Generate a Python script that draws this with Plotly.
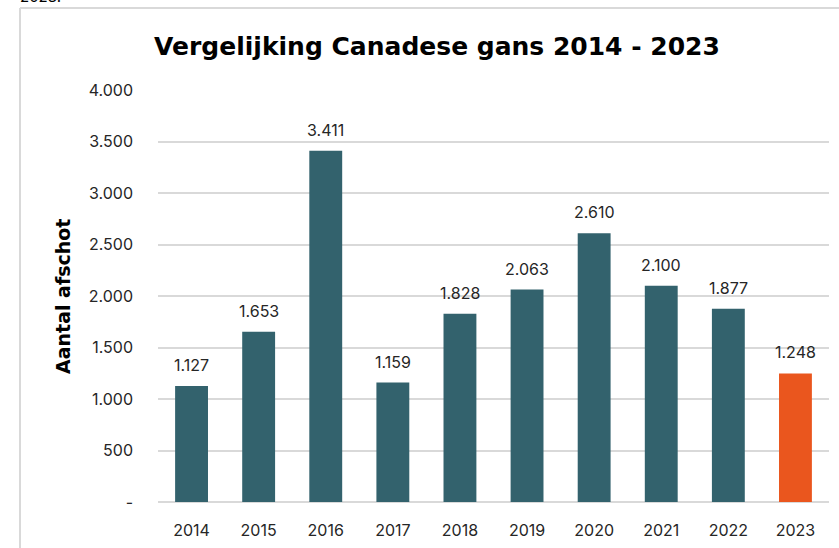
import plotly.graph_objects as go

years = ["2014", "2015", "2016", "2017", "2018", "2019", "2020", "2021", "2022", "2023"]
values = [1127, 1653, 3411, 1159, 1828, 2063, 2610, 2100, 1877, 1248]
tick_vals = [0, 500, 1000, 1500, 2000, 2500, 3000, 3500, 4000]
tick_text = ["-", "500", "1.000", "1.500", "2.000", "2.500", "3.000", "3.500", "4.000"]

teal = "#33626D"
orange = "#EA561E"
colors = [teal] * 9 + [orange]
labels = [f"{v:,}".replace(",", ".") for v in values]

W, H = 839, 548
L, R, T, B = 158, 10, 90, 46
pw, ph = W - L - R, H - T - B

def px(x):
    return (x - L) / pw

def py(y):
    return (H - B - y) / ph

font = "Inter"
bold = "DejaVu Sans"

fig = go.Figure(go.Bar(
    x=years, y=values, marker_color=colors, marker_line_width=0,
    width=0.49, hoverinfo="x+y",
))

ann = [
    dict(x=i, y=v, xref="x", yref="y", text=lab, showarrow=False,
         xanchor="center", yanchor="bottom", yshift=9,
         font=dict(family=font, size=16, color="#262626"))
    for i, (v, lab) in enumerate(zip(values, labels))
]
ann += [
    dict(text="2023.", xref="paper", yref="paper", x=px(18), y=py(-4),
         xanchor="left", yanchor="middle", showarrow=False,
         font=dict(family=font, size=15, color="#000000")),
    dict(text="<b>Aantal afschot</b>", xref="paper", yref="paper", x=px(63), y=py(297),
         xanchor="center", yanchor="middle", textangle=-90, showarrow=False,
         font=dict(family=bold, size=19, color="#000000")),
]

fig.update_layout(
    width=W, height=H,
    margin=dict(l=L, r=R, t=T, b=B, autoexpand=False),
    paper_bgcolor="white", plot_bgcolor="white",
    showlegend=False,
    title=dict(text="<b>Vergelijking Canadese gans 2014 - 2023</b>",
               xref="container", yref="container",
               x=437 / W, xanchor="center", y=1 - 46 / H, yanchor="middle",
               font=dict(family=bold, size=25, color="#000000")),
    xaxis=dict(type="category", range=[-0.5, len(years) - 0.5],
               showgrid=False, showline=False, ticks="", automargin=False,
               ticklabelstandoff=17,
               tickfont=dict(family=font, size=16, color="#262626")),
    yaxis=dict(range=[0, 4000], tickvals=tick_vals, ticktext=tick_text,
               showgrid=True, gridcolor="#D9D9D9", gridwidth=1.5,
               zeroline=True, zerolinecolor="#D9D9D9", zerolinewidth=1.5,
               showline=False, ticks="", ticklabelstandoff=24, automargin=False,
               tickfont=dict(family=font, size=16, color="#262626")),
    shapes=[
        dict(type="line", xref="paper", yref="paper", x0=px(20), x1=px(845), y0=py(8), y1=py(8),
             line=dict(color="#D9D9D9", width=2)),
        dict(type="line", xref="paper", yref="paper", x0=px(20), x1=px(20), y0=py(8), y1=py(560),
             line=dict(color="#D9D9D9", width=2)),
    ],
    annotations=ann,
)

fig.write_html("out.html", config={"displayModeBar": False},
               post_script="document.body.style.margin='0px';")
